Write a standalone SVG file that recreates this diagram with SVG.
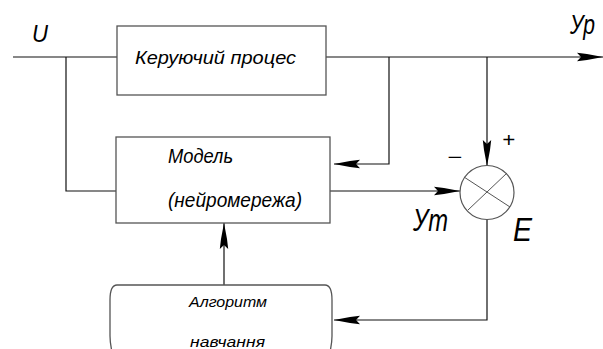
<svg xmlns="http://www.w3.org/2000/svg" width="603" height="349" viewBox="0 0 603 349">
  <defs>
    <marker id="dart" markerUnits="userSpaceOnUse" viewBox="-27 -5 28 10" refX="0" refY="0" markerWidth="28" markerHeight="10" orient="auto">
      <path d="M0,0 L-16,-3 L-26,-4.2 L-22,0 L-26,4.2 L-16,3 Z" fill="#000"/>
    </marker>
    <style>
      .wire { fill: none; stroke: #111; stroke-width: 1.2; }
      .box { fill: #fff; stroke: #555; stroke-width: 1.3; }
      .lbl { font-family: "Liberation Sans", Arial, sans-serif; font-style: italic; fill: #000; }
    </style>
  </defs>
  <rect width="603" height="349" fill="#fff"/>

  <!-- connectors -->
  <g id="connectors">
    <path class="wire" d="M13,57 H603" marker-end="url(#dart)"/>
    <path class="wire" d="M66,57 V191 H116"/>
    <path class="wire" d="M389,57 V164 H334" marker-end="url(#dart)"/>
    <path class="wire" d="M487,57 V166" marker-end="url(#dart)"/>
    <path class="wire" d="M330,191 H460" marker-end="url(#dart)"/>
    <path class="wire" d="M487,219 V320 H334" marker-end="url(#dart)"/>
    <path class="wire" d="M224,285 V223" marker-end="url(#dart)"/>
  </g>

  <!-- controlled process -->
  <g id="process">
    <rect class="box" x="117" y="26" width="209" height="69"/>
    <text class="lbl" x="135" y="64" font-size="19" textLength="161" lengthAdjust="spacingAndGlyphs">Керуючий процес</text>
  </g>

  <!-- neural network model -->
  <g id="model">
    <rect class="box" x="116" y="137" width="214" height="86"/>
    <text class="lbl" x="168" y="163" font-size="21" textLength="65" lengthAdjust="spacingAndGlyphs">Модель</text>
    <text class="lbl" x="168" y="207" font-size="21" textLength="134" lengthAdjust="spacingAndGlyphs">(нейромережа)</text>
  </g>

  <!-- training algorithm -->
  <g id="training">
    <path class="box" d="M117,285 H325 C330,285 332,290 332,300 V336 C332,343 331,347 330,352 M117,285 C112,285 110,290 110,300 V336 C110,343 111,347 112,352"/>
    <text class="lbl" x="189" y="307" font-size="14" textLength="78" lengthAdjust="spacingAndGlyphs">Алгоритм</text>
    <text class="lbl" x="190" y="347" font-size="14" textLength="75" lengthAdjust="spacingAndGlyphs">навчання</text>
  </g>

  <!-- comparator -->
  <g id="comparator">
    <circle cx="487" cy="192.5" r="27" fill="#fff" stroke="#555" stroke-width="1.2"/>
    <path d="M464,177 L510,207 M507,173 L468,210" stroke="#555" stroke-width="1" fill="none"/>
    <text class="lbl" x="502" y="147" font-size="20" textLength="13" lengthAdjust="spacingAndGlyphs">+</text>
    <text class="lbl" x="447" y="164" font-size="20" textLength="15" lengthAdjust="spacingAndGlyphs">−</text>
  </g>

  <!-- signal labels -->
  <g id="labels">
    <text class="lbl" x="32" y="42" font-size="23" textLength="16" lengthAdjust="spacingAndGlyphs">U</text>
    <text class="lbl" x="570" y="34" font-size="28" textLength="25" lengthAdjust="spacingAndGlyphs">Ур</text>
    <text class="lbl" x="413" y="231" font-size="32" textLength="35" lengthAdjust="spacingAndGlyphs">Ут</text>
    <text class="lbl" x="513" y="241" font-size="34" textLength="19" lengthAdjust="spacingAndGlyphs">E</text>
  </g>
</svg>
